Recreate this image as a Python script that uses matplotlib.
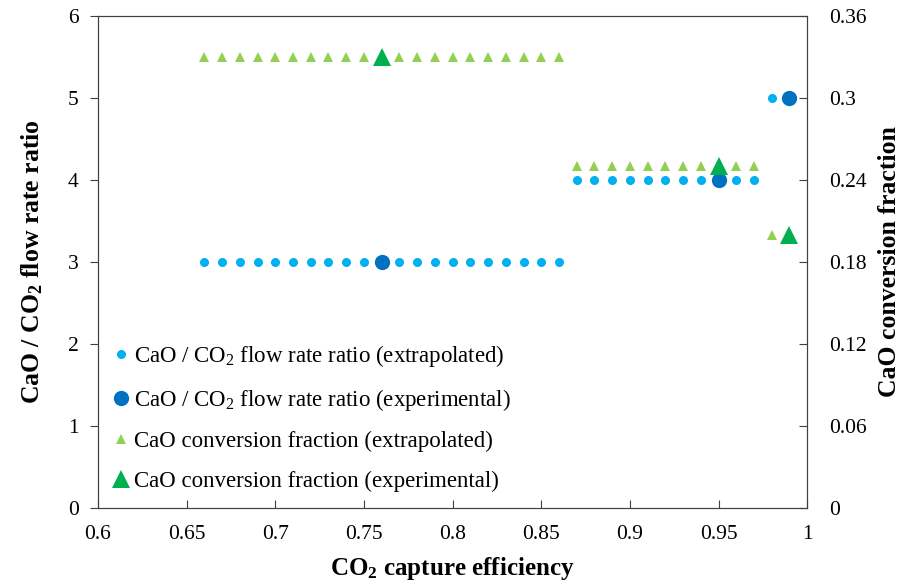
import matplotlib
matplotlib.use("Agg")
import matplotlib.pyplot as plt

plt.rcParams['font.family'] = ['Liberation Serif', 'DejaVu Serif']
plt.rcParams['mathtext.default'] = 'regular'

# CO2 capture efficiency for the extrapolated points
x_extra = [0.66, 0.67, 0.68, 0.69, 0.70, 0.71, 0.72, 0.73, 0.74, 0.75, 0.76,
           0.77, 0.78, 0.79, 0.80, 0.81, 0.82, 0.83, 0.84, 0.85, 0.86,
           0.87, 0.88, 0.89, 0.90, 0.91, 0.92, 0.93, 0.94, 0.95, 0.96, 0.97,
           0.98]
ratio_extra = [3]*21 + [4]*11 + [5]
conv_extra = [0.33]*21 + [0.25]*11 + [0.2]

# experimental points
x_exp = [0.76, 0.95, 0.99]
ratio_exp = [3, 4, 5]
conv_exp = [0.33, 0.25, 0.2]

fig, ax = plt.subplots(figsize=(9.07, 5.88), dpi=100)
fig.subplots_adjust(left=0.108, right=0.89, top=0.973, bottom=0.136)
ax2 = ax.twinx()

h1, = ax.plot(x_extra, ratio_extra, 'o', color='#00B0F0', ms=6.5, mew=0,
              label='CaO / CO$_2$ flow rate ratio (extrapolated)')
h2, = ax.plot(x_exp, ratio_exp, 'o', color='#0070C0', ms=11, mew=0,
              label='CaO / CO$_2$ flow rate ratio (experimental)')
h3, = ax2.plot(x_extra, conv_extra, '^', color='#92D050', ms=7.5, mew=0,
               label='CaO conversion fraction (extrapolated)')
h4, = ax2.plot(x_exp, conv_exp, '^', color='#00B050', ms=12.5, mew=0,
               label='CaO conversion fraction (experimental)')

ax.set_xlim(0.6, 1.0)
ax.set_ylim(0, 6)
ax2.set_ylim(0, 0.36)
ax.set_xticks([0.6, 0.65, 0.7, 0.75, 0.8, 0.85, 0.9, 0.95, 1.0])
ax.set_xticklabels(['0.6', '0.65', '0.7', '0.75', '0.8', '0.85', '0.9', '0.95', '1'])
ax.set_yticks([0, 1, 2, 3, 4, 5, 6])
ax2.set_yticks([0, 0.06, 0.12, 0.18, 0.24, 0.3, 0.36])
ax2.set_yticklabels(['0', '0.06', '0.12', '0.18', '0.24', '0.3', '0.36'])

ax.tick_params(axis='x', direction='in', length=6, labelsize=15.5, pad=12, color='#404040')
ax.tick_params(axis='y', direction='out', length=6, labelsize=15.5, pad=8, color='#404040')
ax2.tick_params(axis='y', direction='in', length=6, labelsize=15.5, pad=16, color='#404040')
for a in (ax, ax2):
    for s in a.spines.values():
        s.set_color('#404040')

ax.set_xlabel('CO$_2$ capture efficiency', fontsize=18, fontweight='bold', labelpad=8)
ax.set_ylabel('CaO / CO$_2$ flow rate ratio', fontsize=18.5, fontweight='bold', labelpad=16)
ax2.set_ylabel('CaO conversion fraction', fontsize=18.5, fontweight='bold', labelpad=8)

ax2.legend(handles=[h1, h2, h3, h4], loc='lower left', bbox_to_anchor=(-0.008, 0.0),
           frameon=False, fontsize=16.5, labelspacing=0.8, handletextpad=0.0,
           handlelength=1.1, borderaxespad=0.3)

fig.savefig('out.png', dpi=100)
